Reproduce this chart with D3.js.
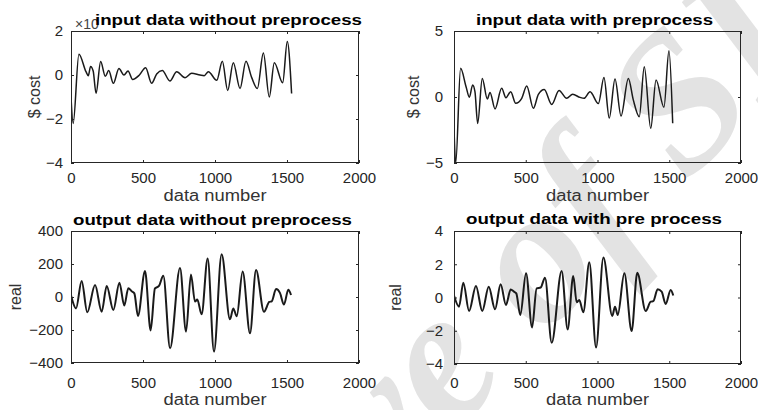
<!DOCTYPE html>
<html>
<head>
<meta charset="utf-8">
<script src="https://cdn.jsdelivr.net/npm/d3@7"></script>
<style>
  body { margin: 0; background: #fff; }
  svg { display: block; font-family: 'Liberation Sans', Arial, sans-serif; }
</style>
</head>
<body>
<svg id="graf" width="758" height="410"></svg>
<script>
// valores (data number, valor)
const xTicks = [0, 500, 1000, 1500, 2000]

const inRawX = [0, 15, 55, 104, 120, 136, 154, 174, 206, 238, 262, 294, 333, 368, 396, 428, 475, 518, 560, 595, 634, 687, 734, 792, 838, 896, 925, 954, 1012, 1051, 1088, 1127, 1174, 1215, 1255, 1294, 1336, 1377, 1412, 1470, 1502, 1532]
const inRawY = [-1.0, -2.2, 0.94, 0.15, -0.03, 0.39, 0.18, -0.83, 0.61, -0.06, 0.2, -0.38, 0.29, 0, 0.18, -0.2, 0, 0.33, -0.38, 0.05, 0.2, -0.27, 0.15, -0.12, 0.08, 0, -0.03, 0.15, -0.24, 0.62, -0.7, 0.56, -0.61, 0.62, -0.12, -0.61, 1.0, -1.0, 0.56, -0.35, 1.52, -0.84]
const inRawTicks = [-4, -2, 0, 2]

const inStdX = [0, 12, 46, 84, 107, 130, 146, 165, 197, 232, 251, 286, 332, 362, 395, 430, 472, 507, 553, 588, 629, 681, 732, 785, 827, 878, 906, 948, 1006, 1045, 1082, 1122, 1164, 1215, 1249, 1291, 1326, 1371, 1408, 1463, 1498, 1524]
const inStdY = [-2.4, -5.0, 2.17, 0.78, -0.02, 0.91, 0.4, -2.0, 1.41, -0.15, 0.35, -0.9, 0.66, -0.05, 0.4, -0.48, -0.1, 0.83, -0.86, 0.2, 0.57, -0.56, 0.49, -0.1, 0.2, -0.03, -0.1, 0.4, -0.5, 1.47, -1.6, 1.37, -1.44, 1.41, -0.2, -1.49, 2.3, -2.37, 1.29, -0.78, 3.5, -1.99]
const inStdTicks = [-5, 0, 5]

const outRawX = [0, 35, 74, 113, 167, 213, 248, 294, 336, 370, 398, 421, 440, 465, 514, 553, 583, 611, 641, 688, 757, 799, 833, 861, 877, 907, 949, 993, 1046, 1104, 1127, 1151, 1192, 1243, 1285, 1340, 1377, 1394, 1424, 1451, 1479, 1509, 1528]
const outRawY = [10, -69, 97, -93, 73, -89, 67, -79, 87, -52, 53, 35, 22, -115, 158, -203, 52, 67, 129, -311, 176, -210, 137, -28, -15, -105, 234, -331, 259, -135, -69, -117, 154, -220, 164, -89, -30, -26, 48, 25, -46, 44, 12]
const outRawTicks = [-400, -200, 0, 200, 400]

const outStdX = [0, 35, 65, 105, 153, 197, 242, 286, 325, 362, 395, 418, 434, 462, 502, 544, 576, 604, 634, 681, 750, 792, 831, 855, 873, 901, 943, 990, 1041, 1103, 1122, 1141, 1187, 1238, 1277, 1336, 1371, 1389, 1419, 1447, 1475, 1510, 1528]
const outStdY = [0.12, -0.55, 0.89, -0.81, 0.69, -0.81, 0.65, -0.71, 0.79, -0.45, 0.48, 0.35, 0.25, -1.05, 1.46, -1.8, 0.55, 0.6, 1.19, -2.72, 1.6, -1.92, 1.3, -0.29, -0.15, -0.89, 2.12, -3.0, 2.4, -1.11, -0.55, -1.05, 1.46, -2.02, 1.49, -0.81, -0.25, -0.22, 0.49, 0.35, -0.39, 0.45, 0.12]
const outStdTicks = [-4, -2, 0, 2, 4]

const titulos = ['input data without preprocess', 'input data with preprocess', 'output data without preprocess', 'output data with pre process']
const ejesY = ['$ cost', '$ cost', 'real', 'real']

// Configuracion de cada sub grafica (posicion y estilo)
const paneles = [
  { xs: inRawX, ys: inRawY, ticks: inRawTicks, l: 71, r: 359, t: 31, b: 163, tx: 228.5, ty: 24.5, tw: 267, labY: 201, tickY: 183, ylabX: 40, gap: 8, lw: 1.5 },
  { xs: inStdX, ys: inStdY, ticks: inStdTicks, l: 454, r: 741, t: 31, b: 163, tx: 594.5, ty: 24.5, tw: 237, labY: 201, tickY: 183, ylabX: 419, gap: 11, lw: 1.5 },
  { xs: outRawX, ys: outRawY, ticks: outRawTicks, l: 71, r: 359, t: 231, b: 363, tx: 212.5, ty: 224.5, tw: 279, labY: 405, tickY: 388, ylabX: 21, gap: 8, lw: 2 },
  { xs: outStdX, ys: outStdY, ticks: outStdTicks, l: 454, r: 741, t: 231, b: 364, tx: 594, ty: 224, tw: 256, labY: 405, tickY: 388, ylabX: 401, gap: 11, lw: 2 }
]

svg = d3.select('#graf')

// marca de agua de fondo, la S centrada cerca de (680,97)
fs = 195
marca = svg.append('text')
  .text('Archive of SID')
  .attr('font-family', "'Liberation Serif', serif")
  .attr('font-style', 'italic')
  .attr('font-weight', 'bold')
  .attr('font-size', fs)
  .attr('fill', '#e3e3e3')
pos = marca.node().getStartPositionOfChar(11)
marca.attr('transform', `translate(680,97) rotate(-47) translate(${-pos.x - 0.3 * fs},${-pos.y + 0.33 * fs})`)

paneles.forEach((p, i) => {
  const x = d3.scaleLinear().domain([0, 2000]).range([p.l, p.r])
  const y = d3.scaleLinear().domain(d3.extent(p.ticks)).range([p.b, p.t])
  const g = svg.append('g')

  g.append('clipPath').attr('id', 'clip' + i)
    .append('rect').attr('x', p.l).attr('y', p.t).attr('width', p.r - p.l).attr('height', p.b - p.t)

  const datos = p.xs.map((d, k) => [d, p.ys[k]])
  const linea = d3.line().x(d => x(d[0])).y(d => y(d[1])).curve(d3.curveMonotoneX)
  g.append('path')
    .attr('clip-path', `url(#clip${i})`)
    .attr('d', linea(datos))
    .attr('fill', 'none')
    .attr('stroke', '#1a1a1a')
    .attr('stroke-width', p.lw)
    .attr('stroke-linejoin', 'round')

  // ejes con marcas hacia adentro
  const fmt = d3.format('d')
  const ejes = [
    [d3.axisBottom(x).tickValues(xTicks).tickFormat(fmt), `translate(0,${p.b})`],
    [d3.axisTop(x).tickValues(xTicks).tickFormat(''), `translate(0,${p.t})`],
    [d3.axisLeft(y).tickValues(p.ticks).tickFormat(fmt), `translate(${p.l},0)`],
    [d3.axisRight(y).tickValues(p.ticks).tickFormat(''), `translate(${p.r},0)`]
  ]
  ejes.forEach(([eje, tr], k) => {
    const grupo = g.append('g').attr('transform', tr)
      .call(eje.tickSize(-3).tickSizeOuter(0))
    grupo.select('.domain').remove()
    grupo.selectAll('line').attr('stroke', '#262626')
    grupo.selectAll('text')
      .attr('fill', '#262626')
      .attr('font-size', 15)
      .attr('font-family', "'Liberation Sans', Arial, sans-serif")
    if (k === 0) grupo.selectAll('text').attr('y', p.tickY - p.b).attr('dy', null)
    if (k === 2) grupo.selectAll('text').attr('x', -p.gap)
  })

  g.append('rect')
    .attr('x', p.l + 0.5).attr('y', p.t + 0.5)
    .attr('width', p.r - p.l - 1).attr('height', p.b - p.t - 1)
    .attr('fill', 'none').attr('stroke', '#262626').attr('stroke-width', 1)

  // etiquetas
  g.append('text')
    .attr('x', (p.l + p.r) / 2).attr('y', p.labY)
    .attr('text-anchor', 'middle')
    .attr('font-size', 16).attr('fill', '#333')
    .attr('textLength', 103).attr('lengthAdjust', 'spacingAndGlyphs')
    .text('data number')

  g.append('text')
    .attr('transform', `translate(${p.ylabX},${(p.t + p.b) / 2}) rotate(-90)`)
    .attr('text-anchor', 'middle')
    .attr('font-size', 16).attr('fill', '#333')
    .text(ejesY[i])

  if (i === 0) {
    g.append('text').attr('x', 75).attr('y', 29)
      .attr('font-size', 14).attr('fill', '#444')
      .text('\u00d710')
  }

  g.append('text')
    .attr('x', p.tx).attr('y', p.ty)
    .attr('text-anchor', 'middle')
    .attr('font-size', 15).attr('font-weight', 'bold').attr('fill', '#000')
    .attr('textLength', p.tw).attr('lengthAdjust', 'spacingAndGlyphs')
    .text(titulos[i])
})
</script>
</body>
</html>
